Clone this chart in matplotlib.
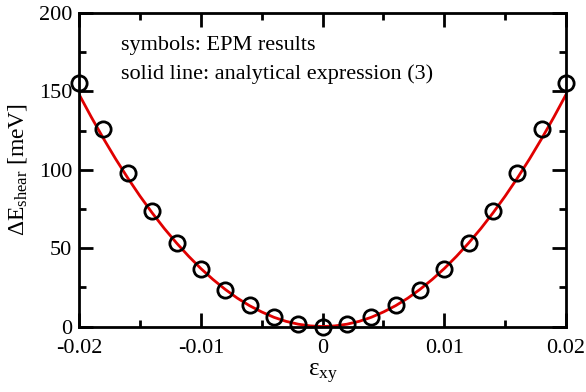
import matplotlib
matplotlib.use("Agg")
import matplotlib.pyplot as plt
from matplotlib.ticker import MultipleLocator

# EPM results (symbols)
strain = [-0.020, -0.018, -0.016, -0.014, -0.012, -0.010, -0.008, -0.006, -0.004, -0.002, 0.0,
          0.002, 0.004, 0.006, 0.008, 0.010, 0.012, 0.014, 0.016, 0.018, 0.020]
epm_energy = [155, 126, 98, 74, 53.5, 37, 23.5, 13.5, 6, 1.5, 0,
              1.5, 6, 13.5, 23.5, 37, 53.5, 74, 98, 126, 155]

# analytical expression (3)
line_strain = [-0.020, -0.019, -0.018, -0.017, -0.016, -0.015, -0.014, -0.013, -0.012, -0.011,
               -0.010, -0.009, -0.008, -0.007, -0.006, -0.005, -0.004, -0.003, -0.002, -0.001, 0.0,
               0.001, 0.002, 0.003, 0.004, 0.005, 0.006, 0.007, 0.008, 0.009, 0.010,
               0.011, 0.012, 0.013, 0.014, 0.015, 0.016, 0.017, 0.018, 0.019, 0.020]
line_energy = [148, 133.6, 119.9, 106.9, 94.7, 83.2, 72.5, 62.5, 53.3, 44.8,
               37, 30, 23.7, 18.1, 13.3, 9.3, 5.9, 3.3, 1.5, 0.4, 0,
               0.4, 1.5, 3.3, 5.9, 9.3, 13.3, 18.1, 23.7, 30, 37,
               44.8, 53.3, 62.5, 72.5, 83.2, 94.7, 106.9, 119.9, 133.6, 148]

plt.rcParams['font.family'] = ['Liberation Serif', 'DejaVu Serif']
plt.rcParams['mathtext.fontset'] = 'stix'

fig = plt.figure(figsize=(5.86, 3.92), dpi=100)
ax = fig.add_axes([0.135, 0.167, 0.831, 0.800])

ax.plot(line_strain, line_energy, color='#e00000', lw=2, zorder=2)
ax.plot(strain, epm_energy, 'o', ms=11, mfc='none', mec='black', mew=2,
        clip_on=False, zorder=3)

ax.set_xlim(-0.02, 0.02)
ax.set_ylim(0, 200)
ax.xaxis.set_minor_locator(MultipleLocator(0.005))
ax.yaxis.set_major_locator(MultipleLocator(50))
ax.yaxis.set_minor_locator(MultipleLocator(25))
ax.set_xticks([-0.02, -0.01, 0, 0.01, 0.02])
ax.set_xticklabels(['-0.02', '-0.01', '0', '0.01', '0.02'])

ax.tick_params(which='both', direction='in', top=True, right=True, width=2,
               labelsize=16)
ax.tick_params(axis='x', pad=9)
ax.tick_params(axis='y', pad=5)
ax.tick_params(which='major', length=10)
ax.tick_params(which='minor', length=5)
for s in ax.spines.values():
    s.set_linewidth(2)

ax.set_xlabel(r'$\mathregular{\varepsilon_{xy}}$', fontsize=18, labelpad=3)
ax.set_ylabel(r'$\mathregular{\Delta E_{shear}}$ [meV]', fontsize=17, labelpad=7)

ax.text(0.085, 0.895, 'symbols: EPM results', transform=ax.transAxes,
        fontsize=16, va='center', ha='left')
ax.text(0.085, 0.805, 'solid line: analytical expression (3)', transform=ax.transAxes,
        fontsize=16, va='center', ha='left')

fig.savefig('out.png', dpi=100)
